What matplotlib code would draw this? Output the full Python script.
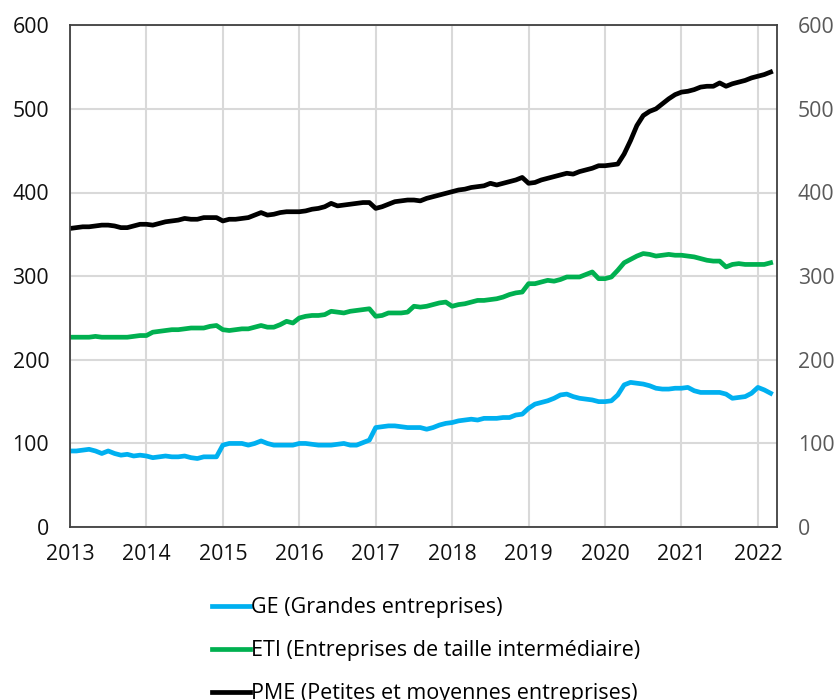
import matplotlib.pyplot as plt
import numpy as np

plt.rcParams['font.family'] = ['Open Sans', 'DejaVu Sans']

# monthly values, Jan 2013 -> Mar 2022
ge = [91, 91, 92, 93, 91, 88, 91, 88, 86, 87, 85, 86,
      85, 83, 84, 85, 84, 84, 85, 83, 82, 84, 84, 84,
      98, 100, 100, 100, 98, 100, 103, 100, 98, 98, 98, 98,
      100, 100, 99, 98, 98, 98, 99, 100, 98, 98, 101, 104,
      119, 120, 121, 121, 120, 119, 119, 119, 117, 119, 122, 124,
      125, 127, 128, 129, 128, 130, 130, 130, 131, 131, 134, 135,
      142, 147, 149, 151, 154, 158, 159, 156, 154, 153, 152, 150,
      150, 151, 158, 170, 173, 172, 171, 169, 166, 165, 165, 166,
      166, 167, 163, 161, 161, 161, 161, 159, 154, 155, 156, 160,
      167, 164, 160]
eti = [227, 227, 227, 227, 228, 227, 227, 227, 227, 227, 228, 229,
       229, 233, 234, 235, 236, 236, 237, 238, 238, 238, 240, 241,
       236, 235, 236, 237, 237, 239, 241, 239, 239, 242, 246, 244,
       250, 252, 253, 253, 254, 258, 257, 256, 258, 259, 260, 261,
       252, 253, 256, 256, 256, 257, 264, 263, 264, 266, 268, 269,
       264, 266, 267, 269, 271, 271, 272, 273, 275, 278, 280, 281,
       291, 291, 293, 295, 294, 296, 299, 299, 299, 302, 305, 297,
       297, 299, 307, 316, 320, 324, 327, 326, 324, 325, 326, 325,
       325, 324, 323, 321, 319, 318, 318, 311, 314, 315, 314, 314,
       314, 314, 316]
pme = [357, 358, 359, 359, 360, 361, 361, 360, 358, 358, 360, 362,
       362, 361, 363, 365, 366, 367, 369, 368, 368, 370, 370, 370,
       366, 368, 368, 369, 370, 373, 376, 373, 374, 376, 377, 377,
       377, 378, 380, 381, 383, 387, 384, 385, 386, 387, 388, 388,
       381, 383, 386, 389, 390, 391, 391, 390, 393, 395, 397, 399,
       401, 403, 404, 406, 407, 408, 411, 409, 411, 413, 415, 418,
       411, 412, 415, 417, 419, 421, 423, 422, 425, 427, 429, 432,
       432, 433, 434, 446, 462, 480, 492, 497, 500, 506, 512, 517,
       520, 521, 523, 526, 527, 527, 531, 527, 530, 532, 534, 537,
       539, 541, 544]
labels = ['GE (Grandes entreprises)',
          "ETI (Entreprises de taille intermédiaire)",
          'PME (Petites et moyennes entreprises)']
colors = ['#00b0f0', '#00b050', '#000000']
years = list(range(2013, 2023))

t = 2013 + np.arange(len(ge)) / 12

fig = plt.figure(figsize=(8.4, 7), dpi=100)
ax = fig.add_axes([0.0833, 0.247, 0.8417, 0.717])

for vals, lab, col in zip([ge, eti, pme], labels, colors):
    ax.plot(t, vals, color=col, lw=3.4, label=lab, solid_joinstyle='round')

ax.set_xlim(2013, 2022.25)
ax.set_ylim(0, 600)
ax.set_xticks(years)
ax.set_yticks(range(0, 601, 100))
ax.grid(True, color='#d9d9d9', lw=1.5)
ax.set_axisbelow(True)
ax.tick_params(length=0, labelsize=15.3, colors='#111111')
ax.tick_params(axis='y', pad=15)
ax.tick_params(axis='x', pad=12)
for s in ax.spines.values():
    s.set_color('#404040')
    s.set_linewidth(1.3)

ax2 = ax.twinx()
ax2.set_ylim(0, 600)
ax2.set_yticks(range(0, 601, 100))
ax2.tick_params(length=0, labelsize=15.3, colors='#595959', pad=15)
for s in ax2.spines.values():
    s.set_visible(False)

fig.legend(loc='upper left', bbox_to_anchor=(0.242, 0.159), frameon=False,
           fontsize=15.5, handlelength=1.75, handletextpad=0.08, labelspacing=1.02,
           borderaxespad=0)

fig.savefig('out.png', dpi=100)
